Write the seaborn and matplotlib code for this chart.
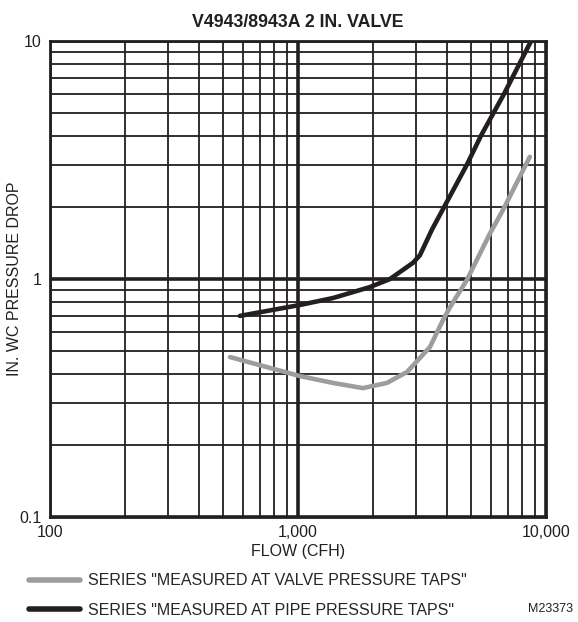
import pandas as pd
import matplotlib
matplotlib.use("Agg")
import matplotlib.pyplot as plt
import seaborn as sns
from matplotlib.ticker import LogLocator, NullFormatter, FixedLocator
from matplotlib.lines import Line2D

# Values (flow in CFH, pressure drop in in. WC)
valve_flow = [532, 1019, 1384, 1828, 2285, 2756, 3406, 3846, 4100, 4797, 5940, 6710, 8610]
valve_drop = [0.47, 0.391, 0.366, 0.348, 0.366, 0.407, 0.518, 0.673, 0.76, 0.99, 1.55, 1.95, 3.26]

pipe_flow = [583, 1019, 1384, 1950, 2350, 2577, 2911, 3105, 3467, 4797, 5470, 6780, 8710]
pipe_drop = [0.70, 0.778, 0.832, 0.925, 1.0, 1.07, 1.17, 1.26, 1.61, 3.02, 4.0, 6.0, 10.0]

series_names = ['SERIES "MEASURED AT VALVE PRESSURE TAPS"',
                'SERIES "MEASURED AT PIPE PRESSURE TAPS"']
series_colors = ["#9d9d9d", "#231f20"]

x_ticks = [100, 1000, 10000]
x_tick_labels = ["100", "1,000", "10,000"]
y_ticks = [0.1, 1, 10]
y_tick_labels = ["0.1", "1", "10"]

df = pd.concat([
    pd.DataFrame({"flow": valve_flow, "drop": valve_drop, "series": series_names[0]}),
    pd.DataFrame({"flow": pipe_flow, "drop": pipe_drop, "series": series_names[1]}),
], ignore_index=True)

sns.set_style("white")
plt.rcParams['font.family'] = ['Liberation Sans', 'DejaVu Sans']

ink = "#231f20"
fig = plt.figure(figsize=(5.78, 6.22), dpi=100)
ax = fig.add_axes([0.0865, 0.1688, 0.858, 0.7652])

sns.lineplot(data=df, x="flow", y="drop", hue="series", palette=series_colors,
             hue_order=series_names, linewidth=3.3, sort=False, legend=False,
             ax=ax, zorder=3)

ax.set_xscale("log")
ax.set_yscale("log")
ax.set_xlim(100, 10000)
ax.set_ylim(0.1, 10)

ax.xaxis.set_major_locator(FixedLocator(x_ticks))
ax.set_xticklabels(x_tick_labels)
ax.yaxis.set_major_locator(FixedLocator(y_ticks))
ax.set_yticklabels(y_tick_labels)
ax.xaxis.set_minor_locator(LogLocator(base=10, subs=range(2, 10)))
ax.yaxis.set_minor_locator(LogLocator(base=10, subs=range(2, 10)))
ax.xaxis.set_minor_formatter(NullFormatter())
ax.yaxis.set_minor_formatter(NullFormatter())

ax.set_axisbelow(True)
ax.grid(which="major", color=ink, linewidth=2.6)
ax.grid(which="minor", color=ink, linewidth=1.3)
ax.tick_params(which="both", length=0, labelsize=11.5, colors=ink)
ax.tick_params(axis="x", pad=6)
ax.tick_params(axis="y", pad=6)
for s in ax.spines.values():
    s.set_color(ink)
    s.set_linewidth(2.0)

ax.set_xlabel("FLOW (CFH)", fontsize=11.5, color=ink)
ax.set_ylabel("IN. WC PRESSURE DROP", fontsize=11.5, color=ink)
ax.xaxis.set_label_coords(0.5, -0.056)
ax.yaxis.set_label_coords(-0.057, 0.5)
ax.set_title("V4943/8943A 2 IN. VALVE", fontsize=12.8, fontweight="bold", color=ink, pad=10)

handles = [Line2D([0], [0], color=c, linewidth=4.0, solid_capstyle="round") for c in series_colors]
fig.legend(handles, series_names, loc="upper left", bbox_to_anchor=(0.05, 0.078),
           bbox_transform=fig.transFigure, frameon=False, fontsize=11.5,
           handlelength=3.2, handletextpad=0.5, labelspacing=0.9,
           borderaxespad=0, borderpad=0)

fig.text(0.992, 0.012, "M23373", ha="right", va="bottom", fontsize=9, color=ink)

fig.savefig("out.png", dpi=100)
